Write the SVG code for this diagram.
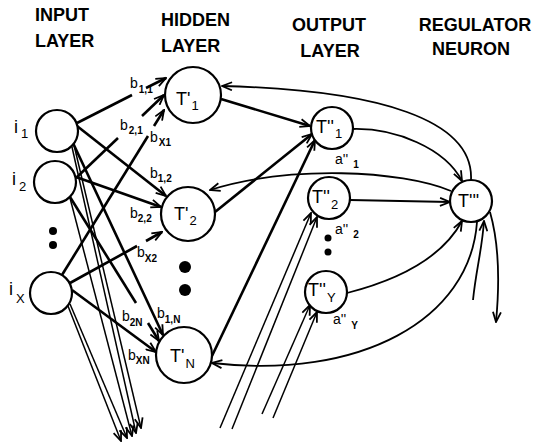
<svg xmlns="http://www.w3.org/2000/svg" width="543" height="446" viewBox="0 0 543 446">
  <style>
    .hdr { font-family: "Liberation Sans", Arial, sans-serif; font-weight: bold; font-size: 18px; fill: #000; }
    .nd { fill: #fff; stroke: #000; stroke-width: 2.2; }
    .lbl { font-family: "Liberation Sans", Arial, sans-serif; font-size: 18px; fill: #000; }
    .sub { font-size: 13px; }
    .wt { font-family: "Liberation Sans", Arial, sans-serif; font-size: 14px; fill: #000; }
    .wsub { font-size: 10px; font-weight: bold; }
    .thick { fill: none; stroke: #000; stroke-width: 2.6; }
    .thin { fill: none; stroke: #000; stroke-width: 1.5; }
    .curve { fill: none; stroke: #000; stroke-width: 1.8; }
    .dot { fill: #000; }
  </style>
  <defs>
    <marker id="ah" viewBox="0 0 12 10" refX="11" refY="5" markerWidth="12" markerHeight="10" orient="auto" markerUnits="userSpaceOnUse">
      <path d="M1,1 L11,5 L1,9" fill="none" stroke="#000" stroke-width="1.8"/>
    </marker>
  </defs>

  <rect width="543" height="446" fill="#fff"/>

  <!-- layer headings -->
  <g id="headings">
    <text class="hdr" x="35" y="21">INPUT</text>
    <text class="hdr" x="35" y="47">LAYER</text>
    <text class="hdr" x="161" y="26">HIDDEN</text>
    <text class="hdr" x="161" y="52">LAYER</text>
    <text class="hdr" x="329" y="31" text-anchor="middle">OUTPUT</text>
    <text class="hdr" x="330" y="57" text-anchor="middle">LAYER</text>
    <text class="hdr" x="475" y="31" text-anchor="middle">REGULATOR</text>
    <text class="hdr" x="471" y="55" text-anchor="middle">NEURON</text>
  </g>

  <!-- connectors -->
  <g id="connectors">
    <!-- input to hidden weights -->
    <path class="thick" d="M77,123 L132,95"/>
    <path class="thick" d="M146,88 L166,78" marker-end="url(#ah)"/>
    <path class="thick" d="M76,178 L118,138"/>
    <path class="thick" d="M142,116 L164,95" marker-end="url(#ah)"/>
    <path class="thick" d="M62,275 L148,136"/>
    <path class="thick" d="M154,126 L164,110" marker-end="url(#ah)"/>
    <path class="thick" d="M77,126 L166,196" marker-end="url(#ah)"/>
    <path class="thick" d="M76,177 L161,207" marker-end="url(#ah)"/>
    <path class="thick" d="M70,283 L137,246"/>
    <path class="thick" d="M146,241 L162,232" marker-end="url(#ah)"/>
    <path class="thick" d="M73,143 L163,335" marker-end="url(#ah)"/>
    <path class="thick" d="M70,197 L136,303"/>
    <path class="thick" d="M148,323 L159,341" marker-end="url(#ah)"/>
    <path class="thick" d="M72,290 L156,352" marker-end="url(#ah)"/>

    <!-- input pass-through lines -->
    <path class="thin" d="M74,145 L141,428" marker-end="url(#ah)"/>
    <path class="thin" d="M72,147 L136,433" marker-end="url(#ah)"/>
    <path class="thin" d="M70,198 L132,436" marker-end="url(#ah)"/>
    <path class="thin" d="M70,304 L127,438" marker-end="url(#ah)"/>
    <path class="thin" d="M68,306 L121,441" marker-end="url(#ah)"/>

    <!-- hidden to output -->
    <path class="thick" d="M221,99 L310,126" marker-end="url(#ah)"/>
    <path class="thick" d="M215,212 L312,134" marker-end="url(#ah)"/>
    <path class="thick" d="M211,358 L315,140" marker-end="url(#ah)"/>

    <!-- external inputs to output nodes -->
    <path class="thin" d="M220,428 L311,213" marker-end="url(#ah)"/>
    <path class="thin" d="M232,429 L317,217" marker-end="url(#ah)"/>
    <path class="thin" d="M262,414 L310,305" marker-end="url(#ah)"/>
    <path class="thin" d="M273,418 L317,312" marker-end="url(#ah)"/>

    <!-- output to regulator -->
    <path class="curve" d="M353,129 C395,128 445,148 462,181" marker-end="url(#ah)"/>
    <path class="curve" d="M350,200 L450,202" marker-end="url(#ah)"/>
    <path class="curve" d="M347,293 C390,282 440,262 462,221" marker-end="url(#ah)"/>
    <path class="curve" d="M473,300 C476,270 482,250 484,221" marker-end="url(#ah)"/>

    <!-- regulator feedback -->
    <path class="curve" d="M490,212 C498,240 500,280 496,322" marker-end="url(#ah)"/>
    <path class="curve" d="M471,180 C474,120 380,90 222,86" marker-end="url(#ah)"/>
    <path class="curve" d="M451,191 C400,170 290,165 210,190" marker-end="url(#ah)"/>
    <path class="curve" d="M477,222 C470,320 360,380 212,363" marker-end="url(#ah)"/>
  </g>

  <!-- weight labels -->
  <g id="weights">
    <text class="wt" x="130" y="88">b<tspan class="wsub" dx="1" dy="5">1,1</tspan></text>
    <text class="wt" x="120" y="130">b<tspan class="wsub" dx="1" dy="4">2,1</tspan></text>
    <text class="wt" x="150" y="142">b<tspan class="wsub" dx="1" dy="4">X1</tspan></text>
    <text class="wt" x="150" y="178">b<tspan class="wsub" dx="0" dy="4">1,2</tspan></text>
    <text class="wt" x="130" y="218">b<tspan class="wsub" dx="0" dy="4">2,2</tspan></text>
    <text class="wt" x="137" y="257">b<tspan class="wsub" dx="0" dy="5">X2</tspan></text>
    <text class="wt" x="157" y="318">b<tspan class="wsub" dx="0" dy="5">1,N</tspan></text>
    <text class="wt" x="122" y="321">b<tspan class="wsub" dx="0" dy="5">2N</tspan></text>
    <text class="wt" x="128" y="360">b<tspan class="wsub" dx="0" dy="4">XN</tspan></text>
  </g>

  <!-- input layer -->
  <g id="i1">
    <circle class="nd" cx="57" cy="131" r="21"/>
    <text class="lbl" x="14" y="133">i<tspan class="sub" dx="3" dy="5">1</tspan></text>
  </g>
  <g id="i2">
    <circle class="nd" cx="55" cy="182" r="21"/>
    <text class="lbl" x="12" y="185">i<tspan class="sub" dx="3" dy="6">2</tspan></text>
  </g>
  <g id="input-dots">
    <circle class="dot" cx="53" cy="231" r="4"/>
    <circle class="dot" cx="53" cy="245" r="4"/>
  </g>
  <g id="iX">
    <circle class="nd" cx="51" cy="293" r="21"/>
    <text class="lbl" x="9" y="295">i<tspan class="sub" dx="3" dy="8">X</tspan></text>
  </g>

  <!-- hidden layer -->
  <g id="h1">
    <circle class="nd" cx="193" cy="95" r="28"/>
    <text class="lbl" x="176" y="105">T'<tspan class="sub" dx="1" dy="5">1</tspan></text>
  </g>
  <g id="h2">
    <circle class="nd" cx="188" cy="214" r="27"/>
    <text class="lbl" x="174" y="220">T'<tspan class="sub" dx="1" dy="5">2</tspan></text>
  </g>
  <g id="hidden-dots">
    <circle class="dot" cx="185" cy="267" r="6"/>
    <circle class="dot" cx="185" cy="290" r="6"/>
  </g>
  <g id="hN">
    <circle class="nd" cx="184" cy="355" r="28"/>
    <text class="lbl" x="170" y="362">T'<tspan class="sub" dx="1" dy="6">N</tspan></text>
  </g>

  <!-- output layer -->
  <g id="o1">
    <circle class="nd" cx="332" cy="128" r="21"/>
    <text class="lbl" x="316" y="133">T''<tspan class="sub" dx="1" dy="5">1</tspan></text>
    <text class="wt" x="335" y="164">a''<tspan class="wsub" dx="5" dy="4">1</tspan></text>
  </g>
  <g id="o2">
    <circle class="nd" cx="329" cy="198" r="21"/>
    <text class="lbl" x="312" y="203">T''<tspan class="sub" dx="1" dy="6">2</tspan></text>
    <text class="wt" x="335" y="234">a''<tspan class="wsub" dx="5" dy="4">2</tspan></text>
  </g>
  <g id="output-dots">
    <circle class="dot" cx="328" cy="238" r="3.5"/>
    <circle class="dot" cx="328" cy="252" r="3.5"/>
  </g>
  <g id="oY">
    <circle class="nd" cx="326" cy="292" r="21"/>
    <text class="lbl" x="308" y="296">T''<tspan class="sub" dx="1" dy="6">Y</tspan></text>
    <text class="wt" x="333" y="324">a''<tspan class="wsub" dx="5" dy="5">Y</tspan></text>
  </g>

  <!-- regulator neuron -->
  <g id="reg">
    <circle class="nd" cx="471" cy="201" r="21"/>
    <text class="lbl" x="458" y="207">T'''</text>
  </g>
</svg>
